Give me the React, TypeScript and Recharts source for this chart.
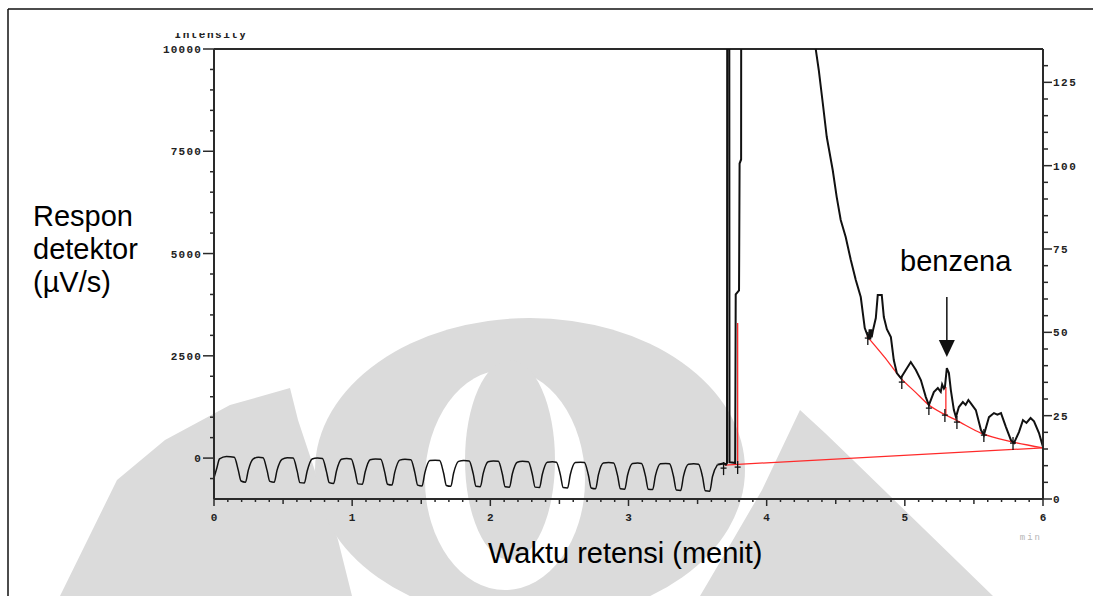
import React from 'react'
import { ComposedChart, Line, Scatter, XAxis, YAxis, ReferenceLine } from 'recharts'

// baseline oscillation before the solvent peak (time in min, response in µV/s)
const oscTime = [
  0, 0.02, 0.04, 0.09, 0.147, 0.176, 0.196, 0.228, 0.248, 0.284, 0.322,
  0.355, 0.384, 0.404, 0.436, 0.456, 0.492, 0.53,
  0.573, 0.602, 0.622, 0.654, 0.674, 0.71, 0.748,
  0.785, 0.814, 0.834, 0.866, 0.886, 0.922, 0.96,
  0.993, 1.022, 1.042, 1.074, 1.094, 1.13, 1.168,
  1.207, 1.236, 1.256, 1.288, 1.308, 1.344, 1.382,
  1.425, 1.454, 1.474, 1.506, 1.526, 1.562, 1.6,
  1.633, 1.662, 1.682, 1.714, 1.734, 1.77, 1.808,
  1.847, 1.876, 1.896, 1.928, 1.948, 1.984, 2.022,
  2.058, 2.087, 2.107, 2.139, 2.159, 2.195, 2.233,
  2.275, 2.304, 2.324, 2.356, 2.376, 2.412, 2.45,
  2.478, 2.507, 2.527, 2.559, 2.579, 2.615, 2.653,
  2.681, 2.71, 2.73, 2.762, 2.782, 2.818, 2.856,
  2.892, 2.921, 2.941, 2.973, 2.993, 3.029, 3.067,
  3.094, 3.123, 3.143, 3.175, 3.195, 3.231, 3.269,
  3.297, 3.326, 3.346, 3.378, 3.398, 3.434, 3.472,
  3.507, 3.536, 3.556, 3.588, 3.608, 3.644,
]
const oscValue = [
  -480, -250, -20, 40, 20, -300, -560, -590, -300, -20, 20,
  10, -300, -570, -590, -300, -30, 10,
  0, -320, -600, -610, -320, -20, 0,
  -10, -330, -600, -620, -320, -30, -10,
  -20, -340, -630, -640, -340, -40, -20,
  -30, -350, -640, -660, -350, -50, -30,
  -40, -360, -660, -680, -360, -60, -50,
  -60, -370, -670, -690, -370, -80, -60,
  -70, -380, -690, -700, -380, -90, -70,
  -80, -390, -700, -710, -390, -100, -80,
  -90, -400, -710, -720, -400, -100, -90,
  -100, -410, -720, -730, -400, -110, -100,
  -110, -420, -730, -750, -410, -120, -110,
  -120, -430, -750, -760, -420, -130, -120,
  -130, -440, -760, -770, -430, -140, -130,
  -140, -450, -780, -790, -440, -150, -140,
  -150, -460, -800, -810, -450, -160,
]

// solvent peaks (off scale) and the tail with the small peaks
const peakTime = [
  3.644, 3.66, 3.69, 3.705, 3.713, 3.717, 3.727, 3.731, 3.75, 3.772, 3.776, 3.8,
  3.804, 3.815, 3.819, 4.0, 4.2, 4.34, 4.355, 4.377, 4.406, 4.435, 4.478, 4.507,
  4.536, 4.572, 4.609, 4.645, 4.681, 4.696, 4.71, 4.73, 4.739, 4.745, 4.75, 4.755,
  4.76, 4.768, 4.79, 4.804, 4.833, 4.848, 4.87, 4.899, 4.92, 4.942, 4.971, 5.007,
  5.043, 5.08, 5.116, 5.152, 5.174, 5.21, 5.239, 5.26, 5.27, 5.283, 5.29, 5.304,
  5.319, 5.333, 5.355, 5.37, 5.391, 5.42, 5.44, 5.46, 5.478, 5.514, 5.551, 5.572,
  5.609, 5.645, 5.67, 5.696, 5.732, 5.768, 5.79, 5.826, 5.855, 5.88, 5.91, 5.935,
  5.971, 6.0,
]
const peakValue = [
  -160, -150, -130, -160, -120, 30000, 30000, -100, -110, -120, 4000, 4100,
  7200, 7300, 30000, 60000, 40000, 12000, 10000, 9487, 8680, 7848, 7042, 6381,
  5819, 5403, 4841, 4352, 3936, 3545, 3178, 3000, 2900, 3150, 2900, 3150,
  2950, 3100, 3423, 3985, 3985, 3447, 3150, 2958, 2396, 2078, 1956, 2152,
  2347, 2152, 1907, 1491, 1296, 1614, 1712, 1620, 1800, 1700, 1736, 2200,
  2078, 1663, 1174, 1002, 1247, 1369, 1300, 1420, 1340, 1174, 685, 562,
  1002, 1100, 1060, 1100, 758, 440, 367, 636, 929, 860, 980, 900,
  611, 269,
]

// integration baselines (red)
const baseTime = [3.696, 6.0]
const baseValue = [-171, 250]
const dropTime = [3.79, 3.79]
const dropValue = [3300, -130]
const tailBaseTime = [4.725, 4.85, 4.971, 5.08, 5.174, 5.297, 5.37, 5.551, 5.783, 6.0]
const tailBaseValue = [2983, 2480, 1956, 1600, 1296, 1051, 929, 611, 391, 250]
const benzDropTime = [5.297, 5.297]
const benzDropValue = [1736, 1051]

// peak start/end markers
const markTime = [3.688, 3.79, 4.732, 4.978, 5.174, 5.29, 5.377, 5.572, 5.783]
const markValue = [-245, -220, 2934, 1858, 1222, 1051, 880, 562, 367]

// benzene arrow tip
const benzArrow = [{ t: 5.304, v: 2469 }]

const leftLabels = [0, 2500, 5000, 7500, 10000]
const rightLabels = [0, 25, 50, 75, 100, 125]
const timeLabels = [0, 1, 2, 3, 4, 5, 6]

const zip = (ts: number[], vs: number[]) => ts.map((t, i) => ({ t, v: vs[i] }))

const oscData = zip(oscTime, oscValue)
const peakData = zip(peakTime, peakValue)
const baseData = zip(baseTime, baseValue)
const dropData = zip(dropTime, dropValue)
const tailBaseData = zip(tailBaseTime, tailBaseValue)
const benzDropData = zip(benzDropTime, benzDropValue)
const markData = zip(markTime, markValue)

const leftTicks = Array.from({ length: 22 }, (_, i) => -500 + i * 500)
const rightTicks = Array.from({ length: 27 }, (_, i) => i * 5)
const timeTicks = Array.from({ length: 61 }, (_, i) => i / 10)

const axisColor = '#2a2a2a'
const tickFont = {
  fontFamily: '"Liberation Mono", monospace',
  fontWeight: 700,
  fontSize: 11,
  fill: '#222',
}
const labelFont = { fontFamily: '"Liberation Sans", Arial, sans-serif', fontSize: 29, fill: '#000' }

function LeftTick({ x, y, payload }: any) {
  const major = leftLabels.includes(payload.value)
  return (
    <g>
      <line x1={x - (major ? 11 : 4)} x2={x} y1={y} y2={y} stroke={axisColor} strokeWidth={1.5} />
      {major && (
        <text x={x - 12} y={y + 4} textAnchor="end" letterSpacing={1.2} {...tickFont}>
          {payload.value}
        </text>
      )}
    </g>
  )
}

function RightTick({ x, y, payload }: any) {
  const major = rightLabels.includes(payload.value)
  return (
    <g>
      <line x1={x} x2={x + (major ? 9 : 5)} y1={y} y2={y} stroke={axisColor} strokeWidth={1.5} />
      {major && (
        <text x={x + 10} y={y + 4} textAnchor="start" letterSpacing={1.5} {...tickFont}>
          {payload.value}
        </text>
      )}
    </g>
  )
}

function TimeTick({ x, y, payload }: any) {
  const v = payload.value
  const major = timeLabels.some((l) => Math.abs(l - v) < 1e-6)
  const half = Math.abs(v * 2 - Math.round(v * 2)) < 1e-6
  const len = major ? 7 : half ? 5 : 3
  return (
    <g>
      <line x1={x} x2={x} y1={y} y2={y + len} stroke={axisColor} strokeWidth={1.5} />
      {major && (
        <text x={x} y={y + 22} textAnchor="middle" {...tickFont}>
          {Math.round(v)}
        </text>
      )}
    </g>
  )
}

function MarkShape({ cx, cy }: any) {
  return (
    <g stroke="#111" strokeWidth={1.3}>
      <line x1={cx} x2={cx} y1={cy - 6} y2={cy + 7} />
      <line x1={cx - 3} x2={cx + 3} y1={cy} y2={cy} />
    </g>
  )
}

function ArrowShape({ cx, cy }: any) {
  return (
    <g>
      <line x1={cx} x2={cx} y1={cy - 60} y2={cy - 16} stroke="#111" strokeWidth={1.5} />
      <path d={`M${cx - 8},${cy - 17} L${cx + 8},${cy - 17} L${cx},${cy} Z`} fill="#111" />
    </g>
  )
}

// faint logo in the background of the scanned figure
function Watermark() {
  const g = '#dbdbdb'
  return (
    <svg width={1093} height={596} style={{ position: 'absolute', left: 0, top: 0 }}>
      <path d="M60,596 L117,480 L165,440 L230,405 L290,388 L298,420 L318,480 L338,540 L352,596 Z" fill={g} />
      <ellipse cx={530} cy={470} rx={215} ry={152} fill={g} />
      <ellipse cx={505} cy={480} rx={80} ry={110} fill="#fff" />
      <ellipse cx={510} cy={460} rx={45} ry={100} fill={g} />
      <path d="M800,410 L825,433 L853,460 L993,596 L700,596 L730,545 L762,490 Z" fill={g} />
    </svg>
  )
}

export default function App() {
  return (
    <div style={{ position: 'absolute', left: 0, top: 0, width: 1093, height: 596, background: '#fff', overflow: 'hidden' }}>
      <Watermark />
      <div style={{ position: 'absolute', left: 0, top: 0 }}>
        <ComposedChart width={1093} height={596} margin={{ top: 49, right: 0, bottom: 57, left: 154 }}>
          <XAxis
            type="number"
            dataKey="t"
            domain={[0, 6]}
            ticks={timeTicks}
            interval={0}
            tick={<TimeTick />}
            tickLine={false}
            tickSize={0}
            tickMargin={0}
            height={40}
            axisLine={{ stroke: axisColor, strokeWidth: 2 }}
          />
          <YAxis
            yAxisId="left"
            dataKey="v"
            type="number"
            domain={[-1000, 10000]}
            allowDataOverflow
            ticks={leftTicks}
            interval={0}
            tick={<LeftTick />}
            tickLine={false}
            tickSize={0}
            tickMargin={0}
            width={60}
            axisLine={{ stroke: axisColor, strokeWidth: 2 }}
          />
          <YAxis
            yAxisId="right"
            orientation="right"
            type="number"
            domain={[0, 135]}
            allowDataOverflow
            ticks={rightTicks}
            interval={0}
            tick={<RightTick />}
            tickLine={false}
            tickSize={0}
            tickMargin={0}
            width={50}
            axisLine={{ stroke: axisColor, strokeWidth: 2 }}
          />
          <ReferenceLine yAxisId="left" y={10000} stroke={axisColor} strokeWidth={2} />
          <Line yAxisId="left" data={baseData} dataKey="v" type="linear" stroke="#ff2a2a" strokeWidth={1.3} dot={false} isAnimationActive={false} />
          <Line yAxisId="left" data={dropData} dataKey="v" type="linear" stroke="#ff2a2a" strokeWidth={1.3} dot={false} isAnimationActive={false} />
          <Line yAxisId="left" data={tailBaseData} dataKey="v" type="monotone" stroke="#ff2a2a" strokeWidth={1.3} dot={false} isAnimationActive={false} />
          <Line yAxisId="left" data={benzDropData} dataKey="v" type="linear" stroke="#ff2a2a" strokeWidth={1.3} dot={false} isAnimationActive={false} />
          <Line yAxisId="left" data={oscData} dataKey="v" type="monotone" stroke="#111" strokeWidth={1.5} dot={false} isAnimationActive={false} />
          <Line yAxisId="left" data={peakData} dataKey="v" type="linear" stroke="#111" strokeWidth={2} dot={false} isAnimationActive={false} />
          <Scatter yAxisId="left" data={markData} dataKey="v" shape={<MarkShape />} isAnimationActive={false} />
          <Scatter yAxisId="left" data={benzArrow} dataKey="v" shape={<ArrowShape />} isAnimationActive={false} />
        </ComposedChart>
      </div>
      <svg width={1093} height={596} style={{ position: 'absolute', left: 0, top: 0, pointerEvents: 'none' }}>
        <line x1={8} x2={8} y1={9} y2={596} stroke="#111" strokeWidth={1.5} />
        <line x1={8} x2={1093} y1={9} y2={9} stroke="#111" strokeWidth={1.5} />
        <defs>
          <clipPath id="intensityClip">
            <rect x={150} y={33} width={140} height={12} />
          </clipPath>
        </defs>
        <text x={211} y={38} textAnchor="middle" letterSpacing={1.5} clipPath="url(#intensityClip)" {...tickFont}>
          Intensity
        </text>
        <text x={33} y={226} {...labelFont}>Respon</text>
        <text x={33} y={259} {...labelFont}>detektor</text>
        <text x={33} y={292} {...labelFont}>(µV/s)</text>
        <text x={900} y={271} {...labelFont}>benzena</text>
        <text x={488} y={563} {...labelFont}>Waktu retensi (menit)</text>
        <text x={1042} y={540} textAnchor="end" letterSpacing={2} fontFamily='"Liberation Mono", monospace' fontSize={9} fill="#b5b5b5">
          min
        </text>
      </svg>
    </div>
  )
}
